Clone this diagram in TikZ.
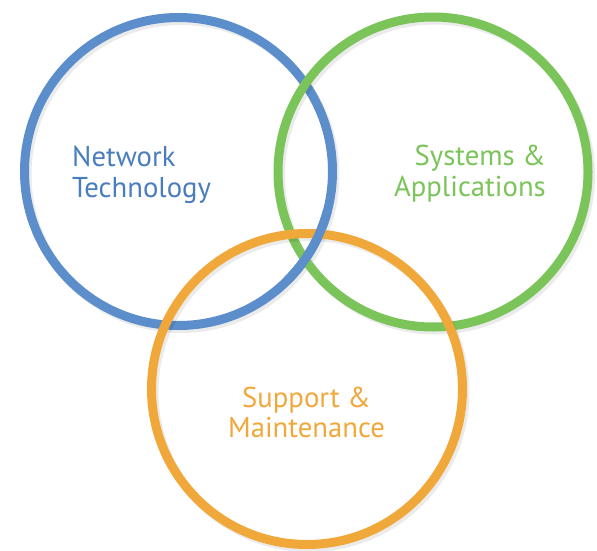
\documentclass[tikz,border=0pt]{standalone}
\usepackage{fontspec}
\setmainfont{PT Sans}
\usetikzlibrary{calc}
\definecolor{netblue}{HTML}{5B8ECB}
\definecolor{nettext}{HTML}{4A7DBD}
\definecolor{sysgreen}{HTML}{7AC459}
\definecolor{suporange}{HTML}{F1A83A}
\begin{document}
\begin{tikzpicture}[x=1pt,y=-1pt,
  ring/.style={line width=9pt},
  shade/.style={line width=9pt, draw=black, opacity=0.08},
  lbl/.style={inner sep=0pt, font=\fontsize{28.7}{32}\selectfont}]
\useasboundingbox (0,0) rectangle (597,551);
% centres
\coordinate (cb) at (178.5,171.5);
\coordinate (cg) at (433,172);
\coordinate (co) at (307,389);
% blue
\draw[shade] ($(cb)+(2.5,3)$) circle[radius=154];
\draw[ring, draw=netblue] (cb) circle[radius=154];
% green
\draw[shade] ($(cg)+(2.5,3)$) circle[radius=155];
\draw[ring, draw=sysgreen] (cg) circle[radius=155];
% orange
\draw[shade] ($(co)+(2.5,3)$) circle[radius=155.5];
\draw[ring, draw=suporange] (co) circle[radius=155.5];
% blue over green and orange in the middle
\draw[ring, draw=netblue] ($(cb)+(45:154)$) arc[start angle=45, end angle=15, radius=154];
% labels
\node[lbl, text=nettext, anchor=base west] (n1) at (72,166) {Network};
\node[lbl, text=nettext, anchor=base west] (n2) at (72,197) {Technology};
\node[lbl, text=sysgreen, anchor=base east] (s1) at (546,165) {Systems \&};
\node[lbl, text=sysgreen, anchor=base east] (s2) at (546,196) {Applications};
\node[lbl, text=suporange, anchor=base] (m1) at (306.5,407) {Support \&};
\node[lbl, text=suporange, anchor=base] (m2) at (306.5,437) {Maintenance};
\end{tikzpicture}
\end{document}
